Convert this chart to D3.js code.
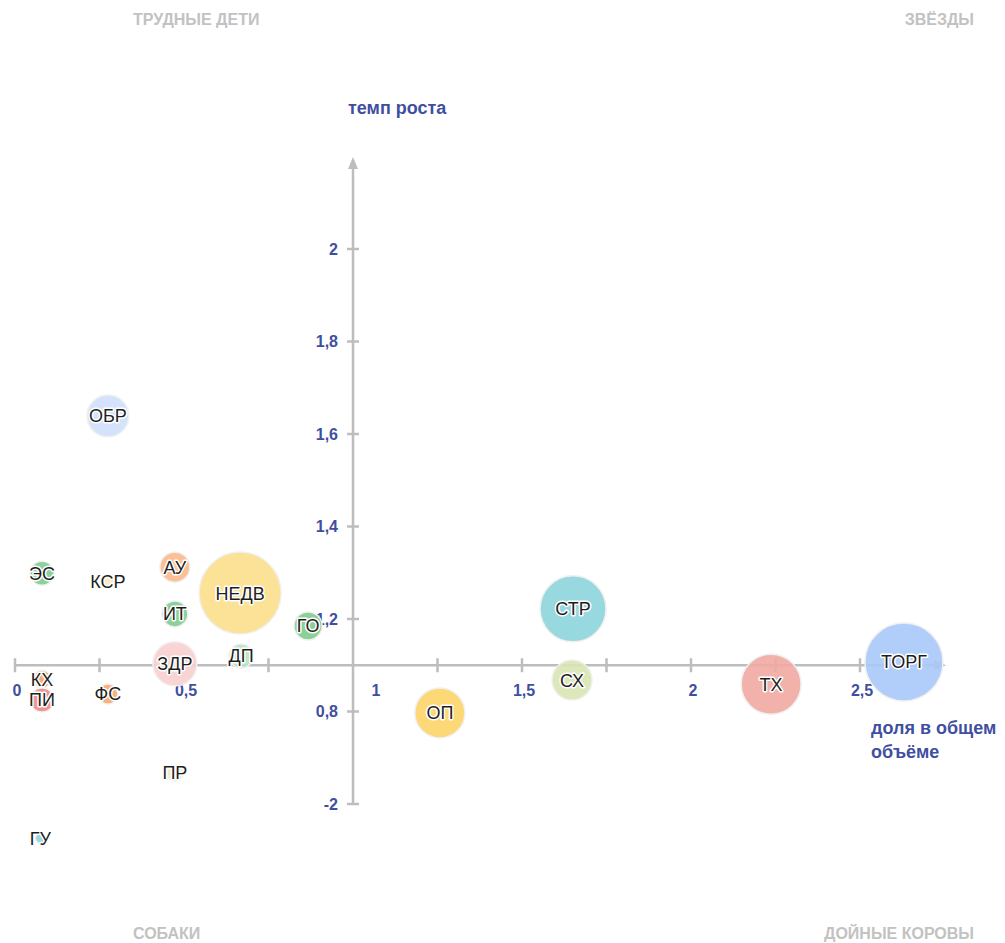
<!DOCTYPE html>
<html>
<head>
<meta charset="utf-8">
<script src="https://cdn.jsdelivr.net/npm/d3@7"></script>
<style>
  body { margin: 0; background: #fff; }
  svg { font-family: "Liberation Sans", Arial, sans-serif; display: block; }
</style>
</head>
<body>
<div id="chart-area"></div>
<script>
// data
const names = ["ОБР", "ЭС", "КСР", "АУ", "ИТ", "НЕДВ", "ГО", "ДП", "ЗДР", "КХ",
  "ПИ", "ФС", "ПР", "ГУ", "ОП", "СТР", "СХ", "ТХ", "ТОРГ"];
const share = [0.275, 0.08, 0.275, 0.473, 0.473, 0.666, 0.867, 0.669, 0.473, 0.08,
  0.08, 0.275, 0.473, 0.075, 1.257, 1.651, 1.648, 2.237, 2.63];
const growth = [1.639, 1.299, 1.28, 1.312, 1.211, 1.256, 1.185, 1.12, 1.103, 1.07,
  1.025, 1.038, 0.867, 0.726, 0.997, 1.222, 1.068, 1.059, 1.107];
const volume = [26, 8.6, 2.1, 13.4, 10, 100, 11.7, 8.6, 28.8, 4.8,
  8.6, 5.9, 3.8, 1.5, 37.2, 64.8, 23.8, 53.5, 90.5];
const colors = ["#cfe0fb", "#80cb8f", "#f6e8bf", "#fbb98a", "#80cb8f", "#fbdf8b", "#7fca8c",
  "#b9e3c0", "#f8cfcf", "#f9a463", "#f08a86", "#fba66c", "#f8e9bf", "#8fd3dc",
  "#fdd467", "#8dd4dc", "#d8e6b2", "#f2a9a3", "#a9c8f8"];

const xTicks = [0, 0.25, 0.5, 0.75, 1, 1.25, 1.5, 1.75, 2, 2.25, 2.5];
const xTickLabels = { 0: "0", 0.5: "0,5", 1: "1", 1.5: "1,5", 2: "2", 2.5: "2,5" };
const yTicks = [2, 1.8, 1.6, 1.4, 1.2, 1.0, 0.8];
const yTickLabels = ["2", "1,8", "1,6", "1,4", "1,2", "0,8", "-2"];
const crossX = 1;
const crossY = 1.1;

const quadrants = [
  { text: "ТРУДНЫЕ ДЕТИ", x: 133, y: 25, anchor: "start" },
  { text: "ЗВЁЗДЫ", x: 974, y: 25, anchor: "end" },
  { text: "СОБАКИ", x: 133, y: 939, anchor: "start" },
  { text: "ДОЙНЫЕ КОРОВЫ", x: 974, y: 939, anchor: "end" }
];

const canvas_dims = { width: 1005, height: 943 };
const axisColor = "#bdbdbd";
const labelBlue = "#3f4f9f";

const svg = d3
  .select("#chart-area")
  .append("svg")
  .attr("width", canvas_dims.width)
  .attr("height", canvas_dims.height);

const scales = {
  x: d3.scaleLinear().domain([0, 2.5]).range([15, 860]),
  y: d3.scaleLinear().domain([0.8, 2]).range([804, 249]),
  r: d3.scaleSqrt().domain([0, d3.max(volume)]).range([0, 41])
};

const cx = scales.x(crossX);
const cy = scales.y(crossY);

// axes lines
const axes = svg.append("g").attr("class", "axes");
axes.append("line")
  .attr("x1", scales.x(0)).attr("x2", 938)
  .attr("y1", cy).attr("y2", cy)
  .attr("stroke", axisColor).attr("stroke-width", 2.5);
axes.append("path")
  .attr("d", `M946,${cy} L934,${cy - 5} L934,${cy + 5} Z`)
  .attr("fill", axisColor);
axes.append("line")
  .attr("x1", cx).attr("x2", cx)
  .attr("y1", scales.y(0.8)).attr("y2", 166)
  .attr("stroke", axisColor).attr("stroke-width", 2.5);
axes.append("path")
  .attr("d", `M${cx},157 L${cx - 5},169 L${cx + 5},169 Z`)
  .attr("fill", axisColor);

// x ticks
axes.selectAll(".xtick")
  .data(xTicks.filter(d => d !== crossX))
  .enter()
  .append("line")
  .attr("class", "xtick")
  .attr("x1", d => scales.x(d)).attr("x2", d => scales.x(d))
  .attr("y1", cy - 7).attr("y2", cy + 7)
  .attr("stroke", axisColor).attr("stroke-width", 2.5);

axes.selectAll(".xlabel")
  .data(xTicks.filter(d => xTickLabels[d] !== undefined))
  .enter()
  .append("text")
  .attr("class", "xlabel")
  .attr("x", d => scales.x(d) + (d === crossX ? 23 : 2))
  .attr("y", cy + 31)
  .attr("text-anchor", "middle")
  .attr("font-size", "16px")
  .attr("font-weight", "bold")
  .attr("fill", labelBlue)
  .text(d => xTickLabels[d]);

// y ticks
axes.selectAll(".ytick")
  .data(yTicks)
  .enter()
  .append("line")
  .attr("class", "ytick")
  .attr("x1", cx - 6).attr("x2", cx + 6)
  .attr("y1", d => scales.y(d)).attr("y2", d => scales.y(d))
  .attr("stroke", axisColor).attr("stroke-width", 2.5);

axes.selectAll(".ylabel")
  .data(yTicks)
  .enter()
  .append("text")
  .attr("class", "ylabel")
  .attr("x", cx - 15)
  .attr("y", d => scales.y(d))
  .attr("dy", "0.35em")
  .attr("text-anchor", "end")
  .attr("font-size", "16px")
  .attr("font-weight", "bold")
  .attr("fill", labelBlue)
  .text((d, i) => yTickLabels[i]);

// axis titles
svg.append("text")
  .attr("x", cx - 5)
  .attr("y", 114)
  .attr("font-size", "18px")
  .attr("font-weight", "bold")
  .attr("fill", labelBlue)
  .text("темп роста");

const xTitle = svg.append("text")
  .attr("x", 871)
  .attr("y", 734)
  .attr("font-size", "18px")
  .attr("font-weight", "bold")
  .attr("fill", labelBlue);
xTitle.append("tspan").attr("x", 871).text("доля в общем");
xTitle.append("tspan").attr("x", 871).attr("dy", 24).text("объёме");

// quadrant names
svg.selectAll(".quadrant")
  .data(quadrants)
  .enter()
  .append("text")
  .attr("class", "quadrant")
  .attr("x", d => d.x)
  .attr("y", d => d.y)
  .attr("text-anchor", d => d.anchor)
  .attr("font-size", "16px")
  .attr("font-weight", "bold")
  .attr("fill", "#c2c2c2")
  .text(d => d.text);

// bubbles
const points = names.map((n, i) => ({
  name: n,
  x: share[i],
  y: growth[i],
  v: volume[i],
  color: colors[i]
}));

const bubbles = svg.append("g").attr("class", "bubbles");
bubbles.selectAll("circle")
  .data(points)
  .enter()
  .append("circle")
  .attr("cx", d => scales.x(d.x))
  .attr("cy", d => scales.y(d.y))
  .attr("r", d => scales.r(d.v))
  .attr("fill", d => d.color)
  .attr("fill-opacity", 0.9)
  .attr("stroke", "#f0f0f0")
  .attr("stroke-width", 1.5);

bubbles.selectAll("text")
  .data(points)
  .enter()
  .append("text")
  .attr("x", d => scales.x(d.x))
  .attr("y", d => scales.y(d.y))
  .attr("dy", "0.36em")
  .attr("text-anchor", "middle")
  .attr("font-size", "18px")
  .attr("fill", "#1e1e1e")
  .attr("stroke", "#fff")
  .attr("stroke-width", 3)
  .attr("stroke-linejoin", "round")
  .attr("paint-order", "stroke")
  .text(d => d.name);
</script>
</body>
</html>
